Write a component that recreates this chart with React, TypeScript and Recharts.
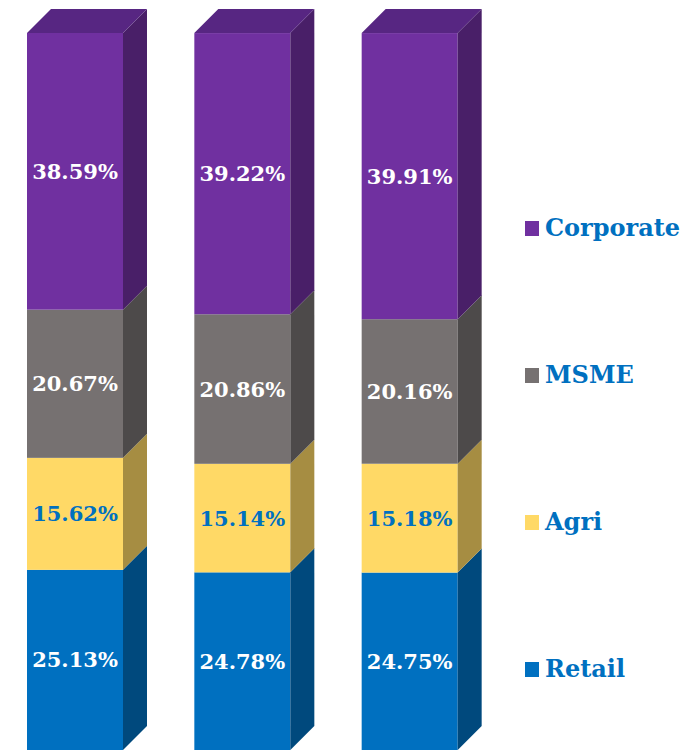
import React from "react";
import { BarChart, Bar, XAxis, YAxis, LabelList, Legend } from "recharts";

const periods = ["P1", "P2", "P3"];
const retail = [25.13, 24.78, 24.75];
const agri = [15.62, 15.14, 15.18];
const msme = [20.67, 20.86, 20.16];
const corporate = [38.59, 39.22, 39.91];

const rows = periods.map((period, i) => ({
  period,
  Retail: retail[i],
  Agri: agri[i],
  MSME: msme[i],
  Corporate: corporate[i],
}));

const FONT = "'DejaVu Serif', serif";
const DEPTH = 24;
const BLUE = "#0070C0";

const makeShape = (front: string, side: string, top?: string) => (props: any) => {
  const { x, y, width, height } = props;
  const r = x + width;
  return (
    <g>
      <rect x={x} y={y} width={width} height={height} fill={front} />
      <polygon
        points={`${r},${y} ${r + DEPTH},${y - DEPTH} ${r + DEPTH},${y + height - DEPTH} ${r},${y + height}`}
        fill={side}
      />
      {top ? (
        <polygon
          points={`${x},${y} ${x + DEPTH},${y - DEPTH} ${r + DEPTH},${y - DEPTH} ${r},${y}`}
          fill={top}
        />
      ) : null}
    </g>
  );
};

const makeLabel = (fill: string) => (props: any) => {
  const { x, y, width, height, value } = props;
  return (
    <text
      x={x + width / 2}
      y={y + height / 2}
      textAnchor="middle"
      dominantBaseline="central"
      fill={fill}
      fontFamily={FONT}
      fontWeight={700}
      fontSize={21}
    >
      {`${Number(value).toFixed(2)}%`}
    </text>
  );
};

const legendItems = [
  { name: "Corporate", color: "#7030A0", top: 221 },
  { name: "MSME", color: "#767171", top: 368 },
  { name: "Agri", color: "#FFD966", top: 515 },
  { name: "Retail", color: "#0070C0", top: 662 },
];

const LegendBox = () => (
  <div style={{ position: "relative", width: 705, height: 750 }}>
    {legendItems.map((it) => (
      <div key={it.name}>
        <div
          style={{
            position: "absolute",
            left: 534,
            top: it.top,
            width: 14,
            height: 15,
            background: it.color,
          }}
        />
        <div
          style={{
            position: "absolute",
            left: 554,
            top: it.top - 8,
            lineHeight: "30px",
            color: BLUE,
            fontFamily: FONT,
            fontWeight: 700,
            fontSize: 24,
            whiteSpace: "nowrap",
          }}
        >
          {it.name}
        </div>
      </div>
    ))}
  </div>
);

export default function App() {
  return (
    <div style={{ position: "absolute", left: 0, top: 0, width: 696, height: 750, overflow: "hidden", background: "#fff" }}>
      <div style={{ position: "absolute", left: -9, top: 0 }}>
        <BarChart
          width={705}
          height={750}
          data={rows}
          barSize={96}
          margin={{ top: 33, right: 203, bottom: 0, left: 0 }}
        >
          <XAxis dataKey="period" hide />
          <YAxis hide domain={[0, 100]} />
          <Legend
            layout="vertical"
            align="center"
            verticalAlign="middle"
            content={<LegendBox />}
            wrapperStyle={{ position: "absolute", left: 0, top: 0, width: 705, height: 750 }}
          />
          <Bar dataKey="Retail" stackId="a" isAnimationActive={false} shape={makeShape("#0070C0", "#00497D")}>
            <LabelList dataKey="Retail" content={makeLabel("#FFFFFF")} />
          </Bar>
          <Bar dataKey="Agri" stackId="a" isAnimationActive={false} shape={makeShape("#FFD966", "#A68D42")}>
            <LabelList dataKey="Agri" content={makeLabel(BLUE)} />
          </Bar>
          <Bar dataKey="MSME" stackId="a" isAnimationActive={false} shape={makeShape("#767171", "#4D4A4A")}>
            <LabelList dataKey="MSME" content={makeLabel("#FFFFFF")} />
          </Bar>
          <Bar
            dataKey="Corporate"
            stackId="a"
            isAnimationActive={false}
            shape={makeShape("#7030A0", "#491F68", "#572682")}
          >
            <LabelList dataKey="Corporate" content={makeLabel("#FFFFFF")} />
          </Bar>
        </BarChart>
      </div>
    </div>
  );
}
